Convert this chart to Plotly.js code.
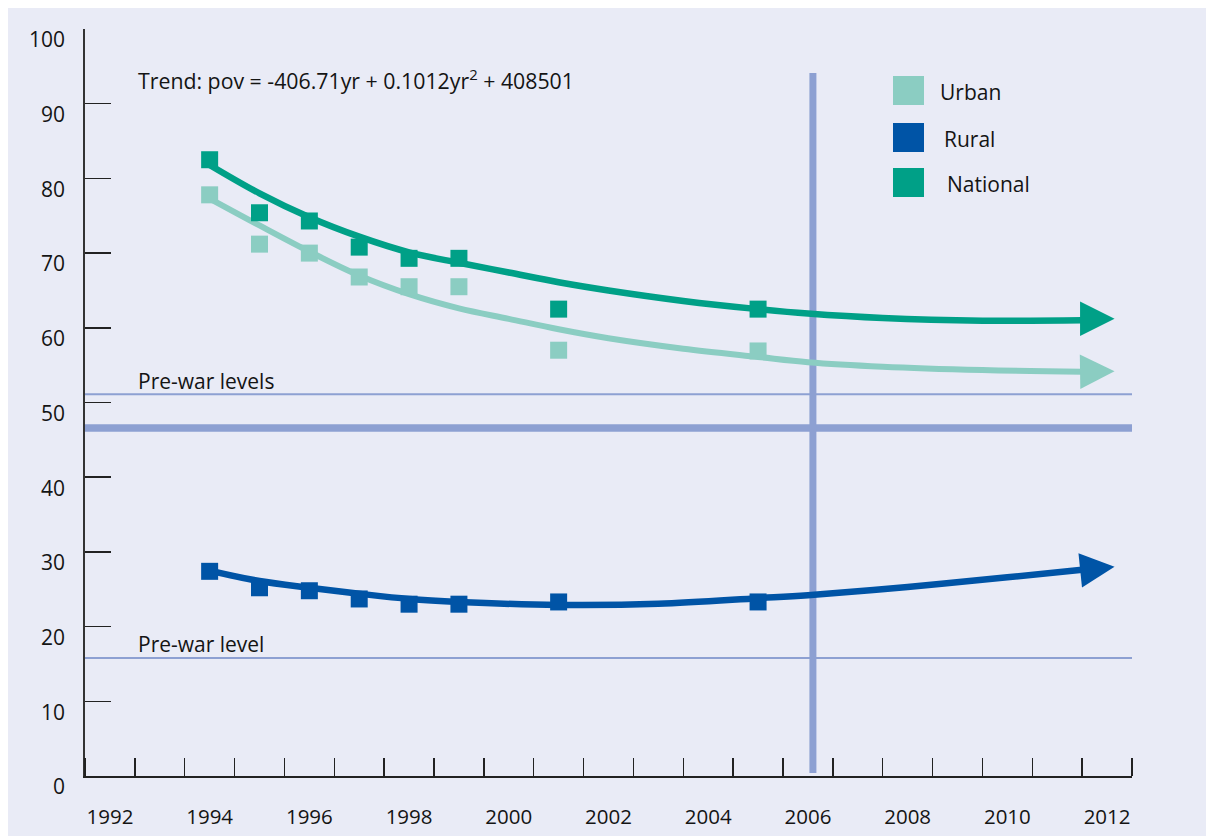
<!DOCTYPE html>
<html><head><meta charset="utf-8">
<script src="https://cdn.plot.ly/plotly-3.0.1.min.js"></script>
<style>html,body{margin:0;padding:0;background:#fff;width:1206px;height:836px;overflow:hidden}
#chart{position:absolute;left:8px;top:8px;width:1198px;height:828px}</style>
</head><body><div id="chart"></div>
<script>
// Survey points (poverty %)
const surveyYears = [1994, 1995, 1996, 1997, 1998, 1999, 2001, 2005];
const urban    = [77.8, 71.2, 70.0, 66.8, 65.5, 65.5, 57.0, 56.9];
const rural    = [27.4, 25.2, 24.8, 23.7, 23.0, 23.0, 23.3, 23.3];
const national = [82.5, 75.4, 74.3, 70.8, 69.3, 69.3, 62.5, 62.5];

// Trend curves
const trendYears    = [1994, 1995, 1996, 1997, 1998, 1999, 2000, 2001, 2002, 2003.5, 2005, 2006, 2007.5, 2009.5, 2011.5];
const urbanTrend    = [77.3, 73.7, 70.2, 67.0, 64.5, 62.6, 61.2, 59.8, 58.6, 57.2, 56.1, 55.4, 54.8, 54.35, 54.1];
const nationalTrend = [81.8, 78.0, 74.8, 72.2, 70.1, 68.7, 67.4, 66.1, 65.0, 63.6, 62.5, 61.9, 61.3, 60.95, 61.0];
const ruralTrendYears = [1994, 1995, 1996, 1997, 1998, 1999, 2001, 2003, 2005, 2006, 2008, 2010, 2011.5];
const ruralTrend      = [27.5, 26.1, 25.2, 24.4, 23.7, 23.3, 22.9, 23.05, 23.8, 24.2, 25.3, 26.6, 27.6];

// Arrow tips of the projected trends
const tipYear = 2012.15;
const urbanTip = 54.2, nationalTip = 61.2, ruralTip = 28.0;

// Reference lines
const prewarUrbanLevel = 51.1;
const dividerLevel = 46.6;
const prewarRuralLevel = 15.8;
const dividerYear = 2006.1;
const dividerSpan = [0.4, 94.1];

// Tick labels
const xTickYears = [1992, 1994, 1996, 1998, 2000, 2002, 2004, 2006, 2008, 2010, 2012];
const xTickText = xTickYears.map(String);
const yTickVals = [0, 10, 20, 30, 40, 50, 60, 70, 80, 90, 100];
const yTickText = yTickVals.map(String);

const seriesNames = ['Urban', 'Rural', 'National'];

const cUrban = '#8BCDC2', cRural = '#0054A6', cNational = '#00A087', cRef = '#8DA0D2';
const bg = '#E9EBF6';
const FONT = '"Open Sans", "Noto Sans", sans-serif';

// page-pixel -> paper helpers (plot area: x 85..1132, y 29..776)
const xp = px => (px - 85) / 1047;
const yp = py => (776 - py) / 747;

const traces = [
  {x: trendYears, y: urbanTrend, mode: 'lines', line: {color: cUrban, width: 6, shape: 'spline', smoothing: 1}, hoverinfo: 'skip'},
  {x: trendYears, y: nationalTrend, mode: 'lines', line: {color: cNational, width: 6.5, shape: 'spline', smoothing: 1}, hoverinfo: 'skip'},
  {x: ruralTrendYears, y: ruralTrend, mode: 'lines', line: {color: cRural, width: 6.5, shape: 'spline', smoothing: 1}, hoverinfo: 'skip'},
  {x: surveyYears, y: urban, name: seriesNames[0], mode: 'markers', marker: {symbol: 'square', size: 17, color: cUrban}},
  {x: surveyYears, y: rural, name: seriesNames[1], mode: 'markers', marker: {symbol: 'square', size: 17, color: cRural}},
  {x: surveyYears, y: national, name: seriesNames[2], mode: 'markers', marker: {symbol: 'square', size: 17, color: cNational}}
];

const shapes = [
  {type: 'line', xref: 'paper', x0: 0, x1: 1, yref: 'y', y0: prewarUrbanLevel, y1: prewarUrbanLevel, line: {color: cRef, width: 2}, layer: 'below'},
  {type: 'line', xref: 'paper', x0: 0, x1: 1, yref: 'y', y0: dividerLevel, y1: dividerLevel, line: {color: cRef, width: 7.5}, layer: 'below'},
  {type: 'line', xref: 'paper', x0: 0, x1: 1, yref: 'y', y0: prewarRuralLevel, y1: prewarRuralLevel, line: {color: cRef, width: 2}, layer: 'below'},
  {type: 'line', xref: 'x', x0: dividerYear, x1: dividerYear, yref: 'y', y0: dividerSpan[0], y1: dividerSpan[1], line: {color: cRef, width: 7}, layer: 'below'}
];
// legend squares
const legendColors = [cUrban, cRural, cNational];
const legendTops = [76, 123, 168];
const legendTextX = [941, 945, 948];
legendColors.forEach((c, i) => {
  shapes.push({type: 'rect', xref: 'paper', yref: 'paper', x0: xp(893), x1: xp(924), y0: yp(legendTops[i]), y1: yp(legendTops[i] + 29), fillcolor: c, line: {width: 0}});
});

const txt = (text, px, py, size) => ({text, xref: 'paper', yref: 'paper', x: xp(px), y: yp(py), xanchor: 'left', yanchor: 'middle', showarrow: false, font: {family: FONT, size: size || 21, color: '#141414'}});
const annotations = [
  txt('Trend: pov = -406.71yr + 0.1012yr<sup>2</sup> + 408501', 136, 80, 21.3),
  txt('Pre-war levels', 136, 381),
  txt('Pre-war level', 136, 644)
];
seriesNames.forEach((n, i) => annotations.push(txt(n, legendTextX[i] - 3, legendTops[i] + 16)));

const arrow = (y, color, ay) => ({x: tipYear, y, xref: 'x', yref: 'y', text: '', showarrow: true, arrowhead: 2, arrowsize: 2.3, arrowwidth: 3, arrowcolor: color, ax: -34, ay: ay, standoff: 0});
annotations.push(arrow(nationalTip, cNational, 0));
annotations.push(arrow(urbanTip, cUrban, 0.5));
annotations.push(arrow(ruralTip, cRural, 3.5));

const layout = {
  width: 1198, height: 828,
  margin: {l: 77, r: 74, t: 21, b: 60},
  paper_bgcolor: bg, plot_bgcolor: bg,
  showlegend: false,
  font: {family: FONT, size: 20, color: '#141414'},
  xaxis: {
    range: [1991.5, 2012.5], showgrid: false, zeroline: false,
    showline: true, linecolor: '#222', linewidth: 1.5,
    tickmode: 'array', tickvals: xTickYears, ticktext: xTickText, ticks: '',
    ticklabelstandoff: 22,
    tickfont: {family: FONT, size: 20.5, color: '#141414'},
    minor: {tickmode: 'linear', tick0: 1992.5, dtick: 1, ticks: 'inside', ticklen: 18, tickwidth: 1.5, tickcolor: '#222', showgrid: false}
  },
  yaxis: {
    range: [0, 100], showgrid: false, zeroline: false,
    showline: true, linecolor: '#333', linewidth: 1.8,
    tickmode: 'array', tickvals: yTickVals, ticktext: yTickText,
    ticks: 'inside', ticklen: 26, tickwidth: 1.5, tickcolor: '#222',
    ticklabelstandoff: 14, ticklabelshift: 11,
    tickfont: {family: FONT, size: 21, color: '#141414'}
  },
  shapes, annotations
};

Plotly.newPlot('chart', traces, layout, {displayModeBar: false, staticPlot: true});
</script></body></html>
